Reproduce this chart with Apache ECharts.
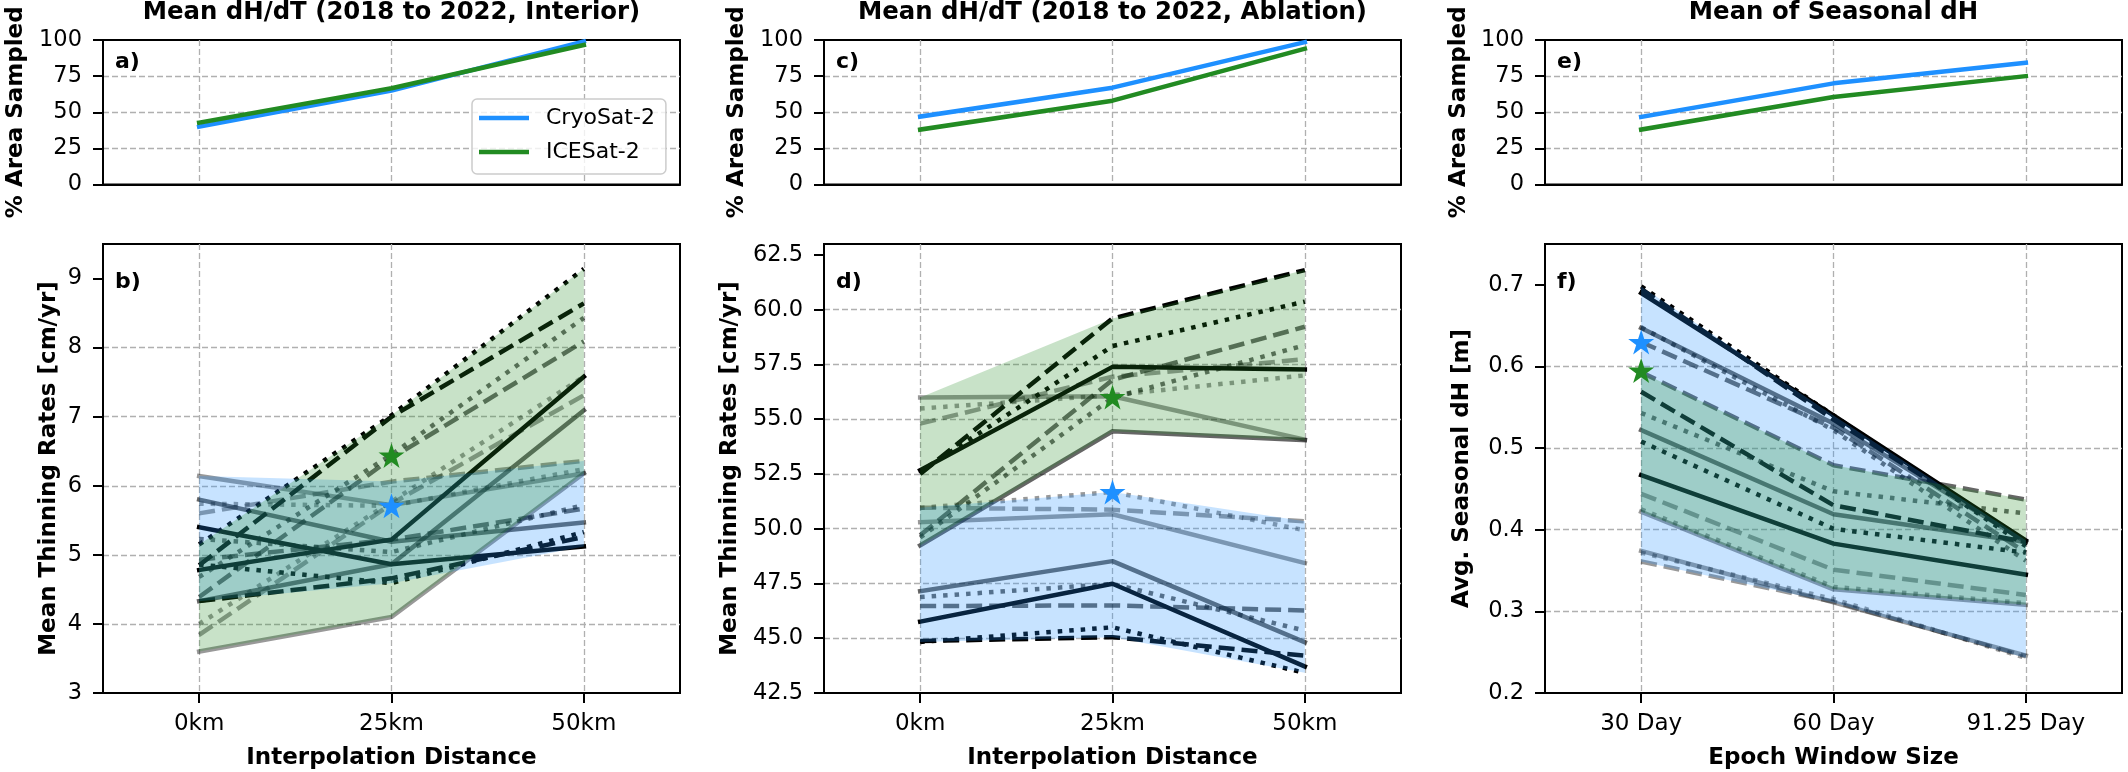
<!DOCTYPE html>
<html><head><meta charset="utf-8">
<style>html,body{margin:0;padding:0;background:#fff}#c{width:2128px;height:772px}</style>
<script src="https://cdn.jsdelivr.net/npm/echarts@6/dist/echarts.min.js"></script>
</head><body><div id="c"></div>
<script>
const distanceLabels = ['0km','25km','50km'];
const windowLabels = ['30 Day','60 Day','91.25 Day'];
const areaTicks = [0,25,50,75,100];
const bTicks = [3,4,5,6,7,8,9];
const dTicks = [42.5,45,47.5,50,52.5,55,57.5,60,62.5];
const fTicks = [0.2,0.3,0.4,0.5,0.6,0.7];

const aCryo = [40,65,99];   const aIce = [42.8,66.6,96.5];
const cCryo = [47,67,98.5]; const cIce = [38,58,94];
const eCryo = [46.8,70,84.3]; const eIce = [38,60.6,75];

// panel b: Interior
const bCryoLightSolid=[6.14,5.72,6.18], bCryoLightDash=[5.60,6.06,6.36], bCryoLightDot=[5.74,5.71,6.24];
const bCryoMidSolid=[5.80,5.19,5.47],   bCryoMidDash=[4.93,5.22,5.67],   bCryoMidDot=[5.23,5.04,5.72];
const bCryoDarkSolid=[5.40,4.865,5.12], bCryoDarkDash=[4.33,4.66,5.26],  bCryoDarkDot=[4.86,4.59,5.33];
const bIceLightSolid=[3.60,4.10,6.18],  bIceLightDash=[3.84,5.74,7.31],  bIceLightDot=[4.00,5.77,7.58];
const bIceMidSolid=[4.33,4.865,7.09],   bIceMidDash=[4.39,6.40,8.09],    bIceMidDot=[4.68,6.45,8.43];
const bIceDarkSolid=[4.78,5.22,7.58],   bIceDarkDash=[4.85,7.00,8.64],   bIceDarkDot=[5.15,7.02,9.14];
const bStarCryo=['-',5.71,'-'], bStarIce=['-',6.44,'-'];

// panel d: Ablation
const dCryoLightSolid=[50.30,50.66,48.43], dCryoLightDash=[50.96,50.87,50.34], dCryoLightDot=[50.95,51.68,49.93];
const dCryoMidSolid=[47.15,48.52,44.82],   dCryoMidDash=[46.47,46.50,46.27],   dCryoMidDot=[46.88,47.48,45.35];
const dCryoDarkSolid=[45.76,47.49,43.71],  dCryoDarkDash=[44.87,45.05,44.20],  dCryoDarkDot=[44.83,45.50,43.42];
const dIceLightSolid=[55.99,56.05,54.07],  dIceLightDash=[54.80,56.94,57.74],  dIceLightDot=[55.49,56.10,57.00];
const dIceMidSolid=[49.24,54.45,54.04],    dIceMidDash=[49.70,56.80,59.22],    dIceMidDot=[49.60,55.98,58.38];
const dIceDarkSolid=[52.67,57.39,57.27],   dIceDarkDash=[52.50,59.60,61.81],   dIceDarkDot=[52.60,58.34,60.37];
const dStarCryo=['-',51.68,'-'], dStarIce=['-',56.02,'-'];

// panel f: Seasonal
const fCryoLightSolid=[0.374,0.311,0.246], fCryoLightDash=[0.361,0.312,0.245], fCryoLightDot=[0.372,0.315,0.243];
const fCryoMidSolid=[0.647,0.530,0.385],   fCryoMidDash=[0.630,0.525,0.372],   fCryoMidDot=[0.648,0.522,0.362];
const fCryoDarkSolid=[0.690,0.540,0.387],  fCryoDarkDash=[0.695,0.535,0.385],  fCryoDarkDot=[0.698,0.540,0.380];
const fIceLightSolid=[0.422,0.327,0.308],  fIceLightDash=[0.444,0.351,0.320],  fIceLightDot=[0.425,0.330,0.310];
const fIceMidSolid=[0.522,0.419,0.385],    fIceMidDash=[0.593,0.479,0.437],    fIceMidDot=[0.543,0.447,0.420];
const fIceDarkSolid=[0.467,0.383,0.345],   fIceDarkDash=[0.569,0.430,0.385],   fIceDarkDot=[0.508,0.401,0.372];
const fStarCryo=[0.630,'-','-'], fStarIce=[0.595,'-','-'];

const BLUE='#1E90FF', GREEN='#228B22', FONT='DejaVu Sans';
const STAR='path://M0,-10L2.245,-3.09L9.511,-3.09L3.633,1.18L5.878,8.09L0,3.82L-5.878,8.09L-3.633,1.18L-9.511,-3.09L-2.245,-3.09Z';
const LW=4.5, DASH=[16,7], DOT=[4.5,7];
const lefts=[103,824,1545], W=577, topT=40, topH=144.5, botT=244, botH=449;

const grids=[], xAxes=[], yAxes=[], series=[];
function panel(col,row,cats,ticks,ymin,ymax,fmt,yName,yGap,xName){
  const idx=grids.length;
  grids.push({left:lefts[col],top:row?botT:topT,width:W,height:row?botH:topH,show:true,borderColor:'#000',borderWidth:2,backgroundColor:'#fff',containLabel:false,outerBoundsMode:'none'});
  xAxes.push({type:'category',gridIndex:idx,data:cats,boundaryGap:true,
    axisLine:{show:true,lineStyle:{color:'#000',width:2}},
    axisTick:{show:!!row,alignWithLabel:true,length:10,lineStyle:{color:'#000',width:2}},
    axisLabel:{show:!!row,fontFamily:FONT,fontSize:23,color:'#000',margin:20},
    splitLine:{show:true,alignWithLabel:true,lineStyle:{color:'#b0b0b0',width:1.3,type:[6,3]}},
    name:xName||'',nameLocation:'middle',nameGap:54,nameTextStyle:{fontFamily:FONT,fontSize:23,fontWeight:'bold',color:'#000'}});
  yAxes.push({type:'value',gridIndex:idx,min:ymin,max:ymax,
    axisLine:{show:true,lineStyle:{color:'#000',width:2}},
    axisTick:{show:true,length:10,customValues:ticks,lineStyle:{color:'#000',width:2}},
    axisLabel:{fontFamily:FONT,fontSize:22.5,color:'#000',margin:21,customValues:ticks,formatter:fmt},
    splitLine:{show:true,showMinLine:false,showMaxLine:false,lineStyle:{color:'#b0b0b0',width:1.3,type:[6,3]}},
    name:yName,nameLocation:'middle',nameRotate:90,nameGap:yGap,nameTextStyle:{fontFamily:FONT,fontSize:23,fontWeight:'bold',color:'#000'}});
  return idx;
}
function common(idx){return {xAxisIndex:idx,yAxisIndex:idx,silent:true,animation:false,showSymbol:false,symbol:'none'};}
function addArea(idx,cryo,ice,names){
  series.push({...common(idx),type:'line',name:names?'CryoSat-2':'c'+idx,data:cryo,z:3,lineStyle:{color:BLUE,width:LW,cap:'square'},itemStyle:{color:BLUE}});
  series.push({...common(idx),type:'line',name:names?'ICESat-2':'i'+idx,data:ice,z:4,lineStyle:{color:GREEN,width:LW,cap:'square'},itemStyle:{color:GREEN}});
}
function addLines(idx,lines){
  lines.forEach(l=>series.push({...common(idx),type:'line',data:l[0],z:2,
    lineStyle:{color:'#000',opacity:l[1],width:LW,type:l[2]||'solid',cap:l[2]?'butt':'square'}}));
}
function addBand(idx,lines,color,key){
  const hi=[0,1,2].map(i=>Math.max(...lines.map(l=>l[i])));
  const lo=[0,1,2].map(i=>Math.min(...lines.map(l=>l[i])));
  series.push({...common(idx),type:'line',stack:key,data:lo,z:3,lineStyle:{opacity:0,width:0}});
  series.push({...common(idx),type:'line',stack:key,data:hi.map((h,i)=>h-lo[i]),z:3,lineStyle:{opacity:0,width:0},areaStyle:{color:color,opacity:0.25,origin:'auto'}});
}
function addStar(idx,data,color){
  series.push({xAxisIndex:idx,yAxisIndex:idx,silent:true,animation:false,type:'scatter',data:data,symbol:STAR,symbolSize:[26,25],z:6,itemStyle:{color:color,opacity:1}});
}

const fmtInt=v=>String(v), fmt1=v=>v.toFixed(1);

let p=panel(0,0,distanceLabels,areaTicks,0,100,fmtInt,'% Area Sampled',75);
addArea(p,aCryo,aIce,true);
p=panel(1,0,distanceLabels,areaTicks,0,100,fmtInt,'% Area Sampled',75);
addArea(p,cCryo,cIce,false);
p=panel(2,0,windowLabels,areaTicks,0,100,fmtInt,'% Area Sampled',74);
addArea(p,eCryo,eIce,false);

function bottom(col,cats,ticks,ymin,ymax,fmt,yName,yGap,xName,C,I,starC,starI){
  const i=panel(col,1,cats,ticks,ymin,ymax,fmt,yName,yGap,xName);
  const style=(a)=>[[a[0],.4],[a[1],.4,DASH],[a[2],.4,DOT],[a[3],.6],[a[4],.6,DASH],[a[5],.6,DOT],[a[6],1],[a[7],1,DASH],[a[8],1,DOT]];
  addLines(i,style(C)); addLines(i,style(I));
  addBand(i,C,BLUE,'bandC'+i); addBand(i,I,GREEN,'bandI'+i);
  addStar(i,starC,BLUE); addStar(i,starI,GREEN);
}
bottom(0,distanceLabels,bTicks,3,9.5,fmtInt,'Mean Thinning Rates [cm/yr]',42,'Interpolation Distance',
  [bCryoLightSolid,bCryoLightDash,bCryoLightDot,bCryoMidSolid,bCryoMidDash,bCryoMidDot,bCryoDarkSolid,bCryoDarkDash,bCryoDarkDot],
  [bIceLightSolid,bIceLightDash,bIceLightDot,bIceMidSolid,bIceMidDash,bIceMidDot,bIceDarkSolid,bIceDarkDash,bIceDarkDot],bStarCryo,bStarIce);
bottom(1,distanceLabels,dTicks,42.5,63,fmt1,'Mean Thinning Rates [cm/yr]',82,'Interpolation Distance',
  [dCryoLightSolid,dCryoLightDash,dCryoLightDot,dCryoMidSolid,dCryoMidDash,dCryoMidDot,dCryoDarkSolid,dCryoDarkDash,dCryoDarkDot],
  [dIceLightSolid,dIceLightDash,dIceLightDot,dIceMidSolid,dIceMidDash,dIceMidDot,dIceDarkSolid,dIceDarkDash,dIceDarkDot],dStarCryo,dStarIce);
bottom(2,windowLabels,fTicks,0.2,0.75,fmt1,'Avg. Seasonal dH [m]',71,'Epoch Window Size',
  [fCryoLightSolid,fCryoLightDash,fCryoLightDot,fCryoMidSolid,fCryoMidDash,fCryoMidDot,fCryoDarkSolid,fCryoDarkDash,fCryoDarkDot],
  [fIceLightSolid,fIceLightDash,fIceLightDot,fIceMidSolid,fIceMidDash,fIceMidDot,fIceDarkSolid,fIceDarkDash,fIceDarkDot],fStarCryo,fStarIce);

const titleStyle={fontFamily:FONT,fontSize:24.4,fontWeight:'bold',color:'#000'};
const letterStyle={fontFamily:FONT,fontSize:22,fontWeight:'bold',color:'#000'};
const titles=[
 {text:'Mean dH/dT (2018 to 2022, Interior)',left:lefts[0]+W/2,top:1,textAlign:'center',textStyle:titleStyle,padding:0},
 {text:'Mean dH/dT (2018 to 2022, Ablation)',left:lefts[1]+W/2,top:1,textAlign:'center',textStyle:titleStyle,padding:0},
 {text:'Mean of Seasonal dH',left:lefts[2]+W/2,top:1,textAlign:'center',textStyle:titleStyle,padding:0}
];
[['a)',0,0],['b)',0,1],['c)',1,0],['d)',1,1],['e)',2,0],['f)',2,1]].forEach(t=>{
  titles.push({text:t[0],left:lefts[t[1]]+12,top:t[2]?271:51,textStyle:letterStyle,padding:0,z:8});
});

const chart=echarts.init(document.getElementById('c'),null,{renderer:'canvas',width:2128,height:772});
chart.setOption({
  backgroundColor:'#fff',animation:false,
  title:titles,grid:grids,xAxis:xAxes,yAxis:yAxes,series:series,
  legend:{data:['CryoSat-2','ICESat-2'],left:472,top:99,orient:'vertical',icon:'rect',itemWidth:50,itemHeight:4.5,itemGap:12,
    padding:[8,11,11,7],backgroundColor:'rgba(255,255,255,0.8)',borderColor:'#ccc',borderWidth:1.5,borderRadius:5,
    selectedMode:false,z:9,textStyle:{fontFamily:FONT,fontSize:22,color:'#000',padding:[0,0,0,12]}}
});
</script></body></html>
